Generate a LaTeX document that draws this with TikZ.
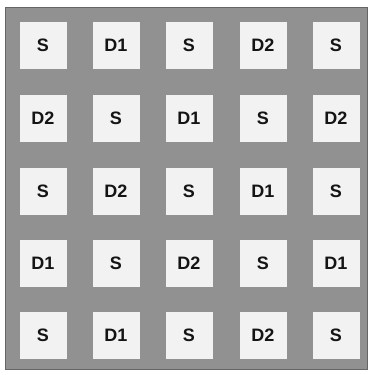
\documentclass[tikz,border=0pt]{standalone}
\usepackage{fontspec}
\setmainfont{Liberation Sans}
\definecolor{bggray}{RGB}{145,145,145}
\definecolor{cellwhite}{RGB}{242,242,242}
\definecolor{txt}{RGB}{20,20,20}
\begin{document}
\begin{tikzpicture}[x=1pt,y=-1pt,
  cell/.style={fill=cellwhite,draw=none,minimum size=47pt,inner sep=0pt,
    font=\fontsize{18}{18}\selectfont\bfseries,text=txt}]
\useasboundingbox (0,0) rectangle (370,375);
\fill[white] (0,0) rectangle (370,375);
\filldraw[fill=bggray,draw=gray!80!black,line width=0.8pt] (5,7) rectangle (367,369);
\def\xs{{43,116,189,263,336}}
\def\ys{{45,118,191,263,335}}
\foreach \r/\row in {0/{S,D1,S,D2,S},1/{D2,S,D1,S,D2},2/{S,D2,S,D1,S},3/{D1,S,D2,S,D1},4/{S,D1,S,D2,S}}{
  \foreach \lab [count=\c from 0] in \row {
    \pgfmathsetmacro{\px}{\xs[\c]}
    \pgfmathsetmacro{\py}{\ys[\r]}
    \node[cell] (n\r\c) at (\px,\py) {\lab};
  }
}
\end{tikzpicture}
\end{document}
